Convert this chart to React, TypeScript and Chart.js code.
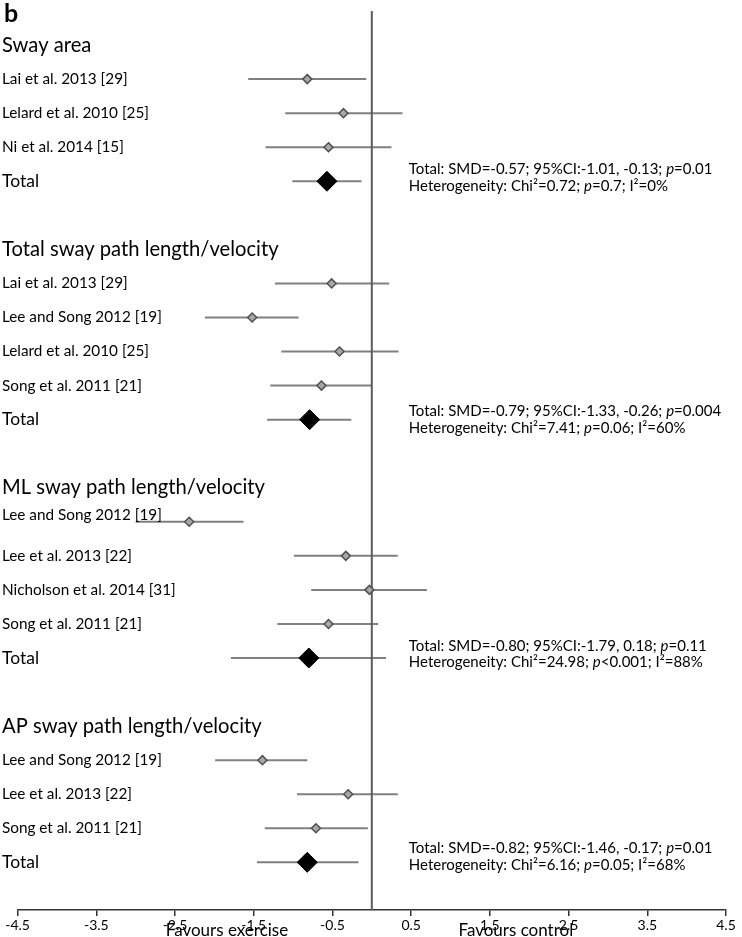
import React, { useEffect, useRef } from "react";
import { Chart, registerables } from "chart.js";

Chart.register(...registerables);

// ---------- data ----------
const panelLetter = "b";
const groupTitles = [
  "Sway area",
  "Total sway path length/velocity",
  "ML sway path length/velocity",
  "AP sway path length/velocity",
];
const studyLabels = [
  "Lai et al. 2013 [29]", "Lelard et al. 2010 [25]", "Ni et al. 2014 [15]", "Total",
  "Lai et al. 2013 [29]", "Lee and Song 2012 [19]", "Lelard et al. 2010 [25]", "Song et al. 2011 [21]", "Total",
  "Lee and Song 2012 [19]", "Lee et al. 2013 [22]", "Nicholson et al. 2014 [31]", "Song et al. 2011 [21]", "Total",
  "Lee and Song 2012 [19]", "Lee et al. 2013 [22]", "Song et al. 2011 [21]", "Total",
];
const studyGroup = [0, 0, 0, 0, 1, 1, 1, 1, 1, 2, 2, 2, 2, 2, 3, 3, 3, 3];
const smd = [
  -0.82, -0.36, -0.55, -0.57,
  -0.51, -1.52, -0.41, -0.64, -0.79,
  -2.32, -0.33, -0.03, -0.55, -0.80,
  -1.39, -0.30, -0.71, -0.82,
];
const ciLower = [
  -1.57, -1.10, -1.35, -1.01,
  -1.23, -2.12, -1.15, -1.29, -1.33,
  -3.00, -0.99, -0.77, -1.20, -1.79,
  -1.99, -0.95, -1.36, -1.46,
];
const ciUpper = [
  -0.07, 0.39, 0.25, -0.13,
  0.22, -0.93, 0.34, 0.00, -0.26,
  -1.63, 0.33, 0.70, 0.08, 0.18,
  -0.82, 0.33, -0.05, -0.17,
];
// "_" toggles italic
const statsLine1 = [
  "Total: SMD=-0.57; 95%CI:-1.01, -0.13; _p_=0.01",
  "Total: SMD=-0.79; 95%CI:-1.33, -0.26; _p_=0.004",
  "Total: SMD=-0.80; 95%CI:-1.79, 0.18; _p_=0.11",
  "Total: SMD=-0.82; 95%CI:-1.46, -0.17; _p_=0.01",
];
const statsLine2 = [
  "Heterogeneity: Chi²=0.72; _p_=0.7; I²=0%",
  "Heterogeneity: Chi²=7.41; _p_=0.06; I²=60%",
  "Heterogeneity: Chi²=24.98; _p_<0.001; I²=88%",
  "Heterogeneity: Chi²=6.16; _p_=0.05; I²=68%",
];
const xTicks = [-4.5, -3.5, -2.5, -1.5, -0.5, 0.5, 1.5, 2.5, 3.5, 4.5];
const favourLabels = ["Favours exercise", "Favours control"];
const favourAt = [-1.84, 1.83];

// ---------- layout constants ----------
const W = 742;
const H = 937;
const FONT = "Lato, 'Open Sans', sans-serif";
const Y_MIN = -1;
const Y_MAX = 25.4;
const statsShift = [-12, -8, -12, -14];
const statsGap = 16.5;
const labelRaise: Record<number, number> = { 9: -7 };

// rows: header, studies..., blank
const headerRows: number[] = [];
const studyRows: number[] = [];
{
  let r = 0;
  groupTitles.forEach((_, g) => {
    headerRows.push(r);
    r++;
    studyLabels.forEach((_, i) => {
      if (studyGroup[i] === g) {
        studyRows[i] = r;
        r++;
      }
    });
    r++;
  });
}

function drawRuns(ctx: CanvasRenderingContext2D, text: string, x: number, y: number, size: number) {
  const parts = text.split("_");
  let cx = x;
  parts.forEach((p, k) => {
    ctx.font = `${k % 2 === 1 ? "italic " : ""}${size}px ${FONT}`;
    ctx.fillText(p, cx, y);
    cx += ctx.measureText(p).width;
  });
}

const forestPlugin = {
  id: "forest",
  beforeDatasetsDraw(chart: any) {
    const { ctx, scales } = chart;
    const xs = scales.x;
    const ys = scales.y;
    ctx.save();
    ctx.strokeStyle = "#808080";
    ctx.lineWidth = 2;
    studyLabels.forEach((_, i) => {
      const y = ys.getPixelForValue(studyRows[i]);
      ctx.beginPath();
      ctx.moveTo(xs.getPixelForValue(ciLower[i]), y);
      ctx.lineTo(xs.getPixelForValue(ciUpper[i]), y);
      ctx.stroke();
    });
    ctx.restore();
  },
  afterDraw(chart: any) {
    const { ctx, scales } = chart;
    const xs = scales.x;
    const ys = scales.y;
    ctx.save();
    ctx.fillStyle = "#000";
    ctx.textAlign = "left";
    ctx.textBaseline = "alphabetic";
    ctx.font = `bold 25px ${FONT}`;
    ctx.fillText(panelLetter, 4, 22);

    ctx.textBaseline = "middle";
    groupTitles.forEach((t, g) => {
      ctx.font = `20.2px ${FONT}`;
      ctx.fillText(t, 2, ys.getPixelForValue(headerRows[g]));
    });
    studyLabels.forEach((t, i) => {
      const total = t === "Total";
      ctx.font = `${total ? 17.5 : 15.3}px ${FONT}`;
      ctx.fillText(t, 2, ys.getPixelForValue(studyRows[i]) + (labelRaise[i] || 0));
    });
    const x0 = xs.getPixelForValue(0) + 37;
    groupTitles.forEach((_, g) => {
      const ti = studyLabels.findIndex((l, i) => l === "Total" && studyGroup[i] === g);
      const yT = ys.getPixelForValue(studyRows[ti]) + statsShift[g];
      drawRuns(ctx, statsLine1[g], x0, yT, 15);
      drawRuns(ctx, statsLine2[g], x0, yT + statsGap, 15);
    });
    ctx.textAlign = "center";
    ctx.textBaseline = "alphabetic";
    ctx.font = `17px ${FONT}`;
    favourLabels.forEach((t, k) => {
      ctx.fillText(t, xs.getPixelForValue(favourAt[k]), H - 1);
    });
    ctx.restore();
  },
};

export default function App() {
  const ref = useRef<HTMLCanvasElement | null>(null);
  useEffect(() => {
    if (!ref.current) return;
    const studyIdx = studyLabels.map((l, i) => i).filter((i) => studyLabels[i] !== "Total");
    const totalIdx = studyLabels.map((l, i) => i).filter((i) => studyLabels[i] === "Total");
    const chart = new Chart(ref.current, {
      type: "scatter",
      data: {
        datasets: [
          {
            data: studyIdx.map((i) => ({ x: smd[i], y: studyRows[i] })),
            pointStyle: "rectRot",
            pointRadius: 4.5,
            backgroundColor: "#a8a8a8",
            borderColor: "#505050",
            borderWidth: 1.5,
            order: 0,
          } as any,
          {
            data: totalIdx.map((i) => ({ x: smd[i], y: studyRows[i] })),
            pointStyle: "rectRot",
            pointRadius: 10,
            backgroundColor: "#000",
            borderColor: "#000",
            borderWidth: 1,
            order: 1,
          } as any,
          {
            type: "line",
            data: [
              { x: 0, y: Y_MIN },
              { x: 0, y: Y_MAX },
            ],
            showLine: true,
            borderColor: "#5c5c5c",
            borderWidth: 2,
            pointRadius: 0,
            order: 3,
          } as any,
        ],
      },
      options: {
        animation: false,
        responsive: false,
        events: [],
        layout: { padding: { left: 17.6, right: 16, top: 8, bottom: 0 } },
        plugins: { legend: { display: false }, tooltip: { enabled: false }, title: { display: false } },
        scales: {
          x: {
            type: "linear",
            min: -4.5,
            max: 4.5,
            afterBuildTicks: (s: any) => {
              s.ticks = xTicks.map((v) => ({ value: v }));
            },
            afterFit: (s: any) => {
              s.height = 27;
            },
            ticks: {
              color: "#000",
              font: { family: FONT, size: 14 },
              padding: 1,
              maxRotation: 0,
              autoSkip: false,
              callback: (v: any) => String(v),
            },
            grid: { drawOnChartArea: false, drawTicks: true, tickLength: 6, color: "#333", lineWidth: 1.5 },
            border: { color: "#333", width: 1.5 },
          },
          y: {
            type: "linear",
            display: false,
            reverse: true,
            min: Y_MIN,
            max: Y_MAX,
          },
        },
      },
      plugins: [forestPlugin],
    } as any);
    return () => chart.destroy();
  }, []);
  return (
    <div style={{ position: "absolute", left: 0, top: 0, width: W, height: H, background: "#fff" }}>
      <canvas ref={ref} width={W} height={H} style={{ display: "block" }} />
    </div>
  );
}
